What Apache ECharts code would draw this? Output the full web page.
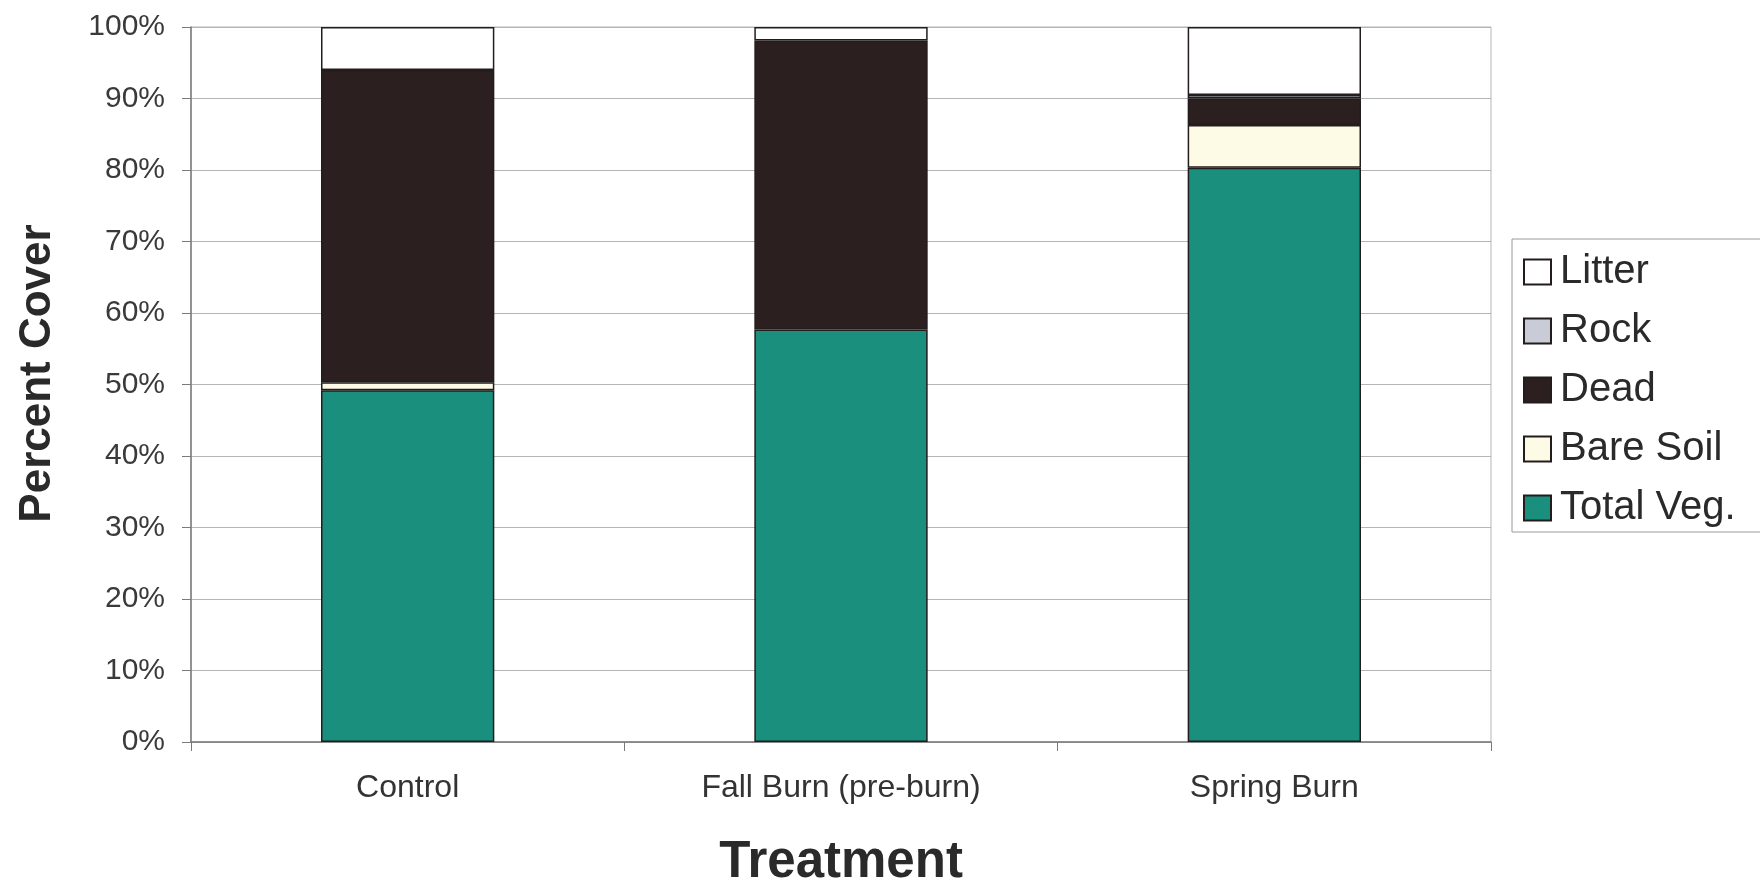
<!DOCTYPE html>
<html>
<head>
<meta charset="utf-8">
<script src="https://cdn.jsdelivr.net/npm/echarts@6/dist/echarts.min.js"></script>
<style>html,body{margin:0;padding:0;background:#fff;}#c{width:1760px;height:880px;}</style>
</head>
<body>
<div id="c"></div>
<script>
const categories = ['Control', 'Fall Burn (pre-burn)', 'Spring Burn'];
const totalVeg = [49.2, 57.7, 80.3];
const bareSoil = [1.1, '-', 6.0];
const dead = [43.7, 40.4, 3.7];
const rock = ['-', '-', 0.5];
const litter = [6.0, 1.9, 9.5];
const yTicks = [0, 10, 20, 30, 40, 50, 60, 70, 80, 90, 100];

const FONT = "'Liberation Sans', Arial, sans-serif";
const chart = echarts.init(document.getElementById('c'), null, {renderer: 'canvas'});

function bar(name, data, color) {
  return {
    name: name, type: 'bar', stack: 'cover', data: data, barWidth: '40%',
    itemStyle: {color: color, borderColor: '#231c1c', borderWidth: 1.5},
    emphasis: {disabled: true}
  };
}

chart.setOption({
  animation: false,
  backgroundColor: '#ffffff',
  textStyle: {fontFamily: FONT},
  grid: {left: 191, right: 269, top: 27, bottom: 138, containLabel: false, outerBoundsMode: 'none',
         show: true, borderColor: '#b5b5b5', borderWidth: 1},
  legend: {
    orient: 'vertical', left: 1512, top: 239,
    data: ['Litter', 'Rock', 'Dead', 'Bare Soil', 'Total Veg.'],
    icon: 'rect',
    itemWidth: 27, itemHeight: 25, itemGap: 19,
    padding: [13, 40, 4, 11],
    borderColor: '#9a9a9a', borderWidth: 1,
    textStyle: {fontSize: 40, color: '#2a2a2a', fontFamily: FONT, padding: [0, 0, 0, 4]},
    selectedMode: false
  },
  xAxis: {
    type: 'category', data: categories,
    axisLine: {lineStyle: {color: '#7a7a7a', width: 1.5}},
    axisTick: {show: true, length: 9, lineStyle: {color: '#7a7a7a'}},
    axisLabel: {fontSize: 32, color: '#333', margin: 30, fontFamily: FONT},
    name: 'Treatment', nameLocation: 'middle', nameGap: 95,
    nameTextStyle: {fontSize: 51, fontWeight: 'bold', color: '#2a2a2a', fontFamily: FONT}
  },
  yAxis: {
    type: 'value', min: yTicks[0], max: yTicks[yTicks.length - 1], interval: 10,
    axisLine: {show: true, lineStyle: {color: '#7a7a7a', width: 1.5}},
    axisTick: {show: true, length: 9, lineStyle: {color: '#7a7a7a'}},
    axisLabel: {fontSize: 30, color: '#3a3a3a', margin: 26, formatter: '{value}%', fontFamily: FONT},
    splitLine: {show: true, lineStyle: {color: '#b5b5b5', width: 1}},
    name: 'Percent Cover', nameLocation: 'middle', nameGap: 131,
    nameTextStyle: {fontSize: 44, fontWeight: 'bold', color: '#2a2a2a', fontFamily: FONT, padding: [0, 0, 0, 22]}
  },
  series: [
    bar('Total Veg.', totalVeg, '#1a8f7d'),
    bar('Bare Soil', bareSoil, '#fdfbe6'),
    bar('Dead', dead, '#2b1f1f'),
    bar('Rock', rock, '#c9ccd6'),
    bar('Litter', litter, '#ffffff')
  ]
});
</script>
</body>
</html>
